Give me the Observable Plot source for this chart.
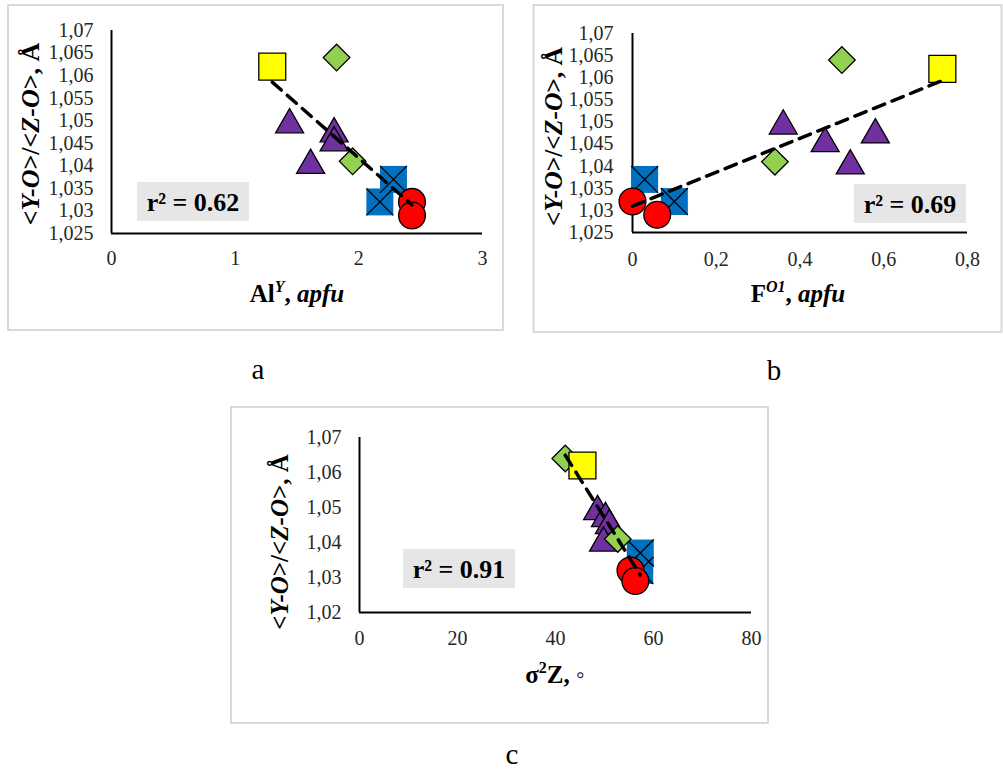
<!DOCTYPE html>
<html><head><meta charset="utf-8">
<script src="https://cdn.jsdelivr.net/npm/d3@7"></script>
<script src="https://cdn.jsdelivr.net/npm/@observablehq/plot@0.6"></script>
<style>
body{margin:0;background:#fff;}
#page{position:relative;width:1003px;height:771px;overflow:hidden;font-family:"Liberation Serif","Times New Roman",serif;background:#fff;}
.pw{position:absolute;}
#overlay{position:absolute;left:0;top:0;pointer-events:none;}
</style></head><body><div id="page"></div>
<script>
// ---- data ----
const series  = ["Blue","Blue","Red","Red","Purple","Purple","Purple","Purple","Green","Green","Yellow"];
const ratioYZ = [1.037,1.032,1.032,1.029,1.050,1.048,1.046,1.041,1.064,1.041,1.062];
const alY     = [2.28,2.17,2.43,2.43,1.44,1.80,1.80,1.61,1.82,1.95,1.30];
const fO1     = [0.029,0.10,0.0,0.059,0.36,0.58,0.46,0.52,0.50,0.34,0.74];
const sigma2Z = [57.3,57.2,55.3,56.3,48.6,50.2,51.0,49.8,42.0,52.7,45.5];
const r2Labels = ["r² = 0.62","r² = 0.69","r² = 0.91"];
const panelLetters = ["a","b","c"];
const yTicksAB = [1.025,1.03,1.035,1.04,1.045,1.05,1.055,1.06,1.065,1.07];
const yTicksC  = [1.02,1.03,1.04,1.05,1.06,1.07];
const xTicksA = [0,1,2,3];
const xTicksB = [0,0.2,0.4,0.6,0.8];
const xTicksC = [0,20,40,60,80];

const fmt = d => d3.format(".3~f")(d).replace(".", ",");
const page = document.getElementById("page");

function markers(xs){
  const rows = series.map((s,i)=>({s, x:xs[i], y:ratioYZ[i]}));
  const f = k => rows.filter(d=>d.s===k);
  const sw = 1.3;
  return [
    Plot.dot(f("Blue"),{x:"x",y:"y",symbol:"square",r:15.2,fill:"#0070C0",stroke:"none"}),
    Plot.dot(f("Blue"),{x:"x",y:"y",symbol:"times",r:12.3,stroke:"#000",strokeWidth:sw}),
    Plot.dot(f("Red"),{x:"x",y:"y",symbol:"circle",r:13.4,fill:"#FF0000",stroke:"#000",strokeWidth:sw}),
    Plot.dot(f("Purple"),{x:"x",y:"y",symbol:"triangle",r:10.4,fill:"#7030A0",stroke:"#000",strokeWidth:sw,dy:4}),
    Plot.dot(f("Green"),{x:"x",y:"y",symbol:"diamond2",r:12,fill:"#92D050",stroke:"#000",strokeWidth:sw}),
    Plot.dot(f("Yellow"),{x:"x",y:"y",symbol:"square",r:15.2,fill:"#FFFF00",stroke:"#000",strokeWidth:sw}),
    Plot.linearRegressionY(rows,{x:"x",y:"y",ci:0,stroke:"#000",strokeWidth:3.5,strokeDasharray:"12,8"})
  ];
}

function panel(cfg){
  const p = Plot.plot({
    width:cfg.w, height:cfg.h,
    marginLeft:cfg.ml, marginRight:cfg.mr, marginTop:cfg.mt, marginBottom:cfg.mb,
    style:{fontFamily:"'Liberation Serif','Times New Roman',serif",fontSize:"20px",color:"#262626",background:"transparent",overflow:"visible"},
    x:{domain:cfg.xd, ticks:cfg.xt, tickFormat:fmt, tickSize:0, tickPadding:cfg.xpad, label:null},
    y:{domain:cfg.yd, ticks:cfg.yt, tickFormat:fmt, tickSize:0, tickPadding:cfg.ypad, label:null},
    marks:[
      Plot.ruleX([cfg.xd[0]],{stroke:"#000",strokeWidth:2}),
      Plot.ruleY([cfg.yd[0]],{stroke:"#000",strokeWidth:2}),
      ...markers(cfg.xs)
    ]
  });
  const d = document.createElement("div");
  d.className="pw"; d.style.left=cfg.left+"px"; d.style.top=cfg.top+"px";
  d.appendChild(p); page.appendChild(d);
}

panel({left:8,top:5,w:495,h:325,ml:103,mr:21,mt:25,mb:97,xd:[0,3],xt:xTicksA,yd:[1.025,1.07],yt:yTicksAB,xpad:17,ypad:18,xs:alY});
panel({left:533,top:5,w:468,h:327,ml:99,mr:34,mt:28,mb:100,xd:[0,0.8],xt:xTicksB,yd:[1.025,1.07],yt:yTicksAB,xpad:19,ypad:19,xs:fO1});
panel({left:231,top:407,w:537,h:316,ml:128,mr:17,mt:30,mb:111,xd:[0,80],xt:xTicksC,yd:[1.02,1.07],yt:yTicksC,xpad:18,ypad:18,xs:sigma2Z});

// ---- overlay: borders, titles, annotations ----
const svg = d3.select(page).append("svg").attr("id","overlay").attr("width",1003).attr("height",771);
[[8,5,495,325],[533.5,5,468,327],[231,407,537,316]].forEach(([x,y,w,h])=>{
  svg.append("rect").attr("x",x).attr("y",y).attr("width",w).attr("height",h)
    .attr("fill","none").attr("stroke","#d9d9d9").attr("stroke-width",2);
});
const serif = "'Liberation Serif','Times New Roman',serif";
function yTitle(x,y,size){
  const t = svg.append("text").attr("transform",`translate(${x},${y}) rotate(-90)`)
    .attr("text-anchor","middle").attr("style",`font-family:${serif};font-weight:bold;font-size:${size}px;fill:#000`);
  [["<",0],["Y-O",1],[">/<",0],["Z-O",1],[">, Å",0]].forEach(([s,it])=>{
    t.append("tspan").attr("font-style",it?"italic":"normal").text(s);
  });
}
yTitle(39,134,26);
yTitle(562,136.5,25.5);
yTitle(288,542,25);

function xTitle(x,y,size,parts){
  const t = svg.append("text").attr("x",x).attr("y",y).attr("text-anchor","middle")
    .attr("style",`font-family:${serif};font-size:${size}px;fill:#000`);
  parts.forEach(p=>{
    const ts = t.append("tspan").text(p.t)
      .attr("font-weight",p.w||"bold").attr("font-style",p.i?"italic":"normal");
    if(p.sup){ ts.attr("font-size",Math.round(size*0.62)).attr("dy",-size*0.42); }
    if(p.down){ ts.attr("dy",size*0.42); }
  });
}
xTitle(297,302,25,[{t:"Al"},{t:"Y",sup:1,i:1},{t:", ",down:1},{t:"apfu",i:1}]);
xTitle(798,302,25,[{t:"F"},{t:"O1",sup:1,i:1},{t:", ",down:1},{t:"apfu",i:1}]);
xTitle(555,683,25,[{t:"σ"},{t:"2",sup:1},{t:"Z, ",down:1},{t:"◦",w:"normal"}]);

[[137,182],[854,184],[403,549]].forEach(([x,y],i)=>{
  svg.append("rect").attr("x",x).attr("y",y).attr("width",112).attr("height",39).attr("fill","#e7e6e6");
  svg.append("text").attr("x",x+56).attr("y",y+28.5).attr("text-anchor","middle")
    .attr("style",`font-family:${serif};font-weight:bold;font-size:26px;fill:#000`).text(r2Labels[i]);
});
[[258,379],[774,380],[512,764]].forEach(([x,y],i)=>{
  svg.append("text").attr("x",x).attr("y",y).attr("text-anchor","middle")
    .attr("style",`font-family:${serif};font-size:29px;fill:#000`).text(panelLetters[i]);
});
</script></body></html>
